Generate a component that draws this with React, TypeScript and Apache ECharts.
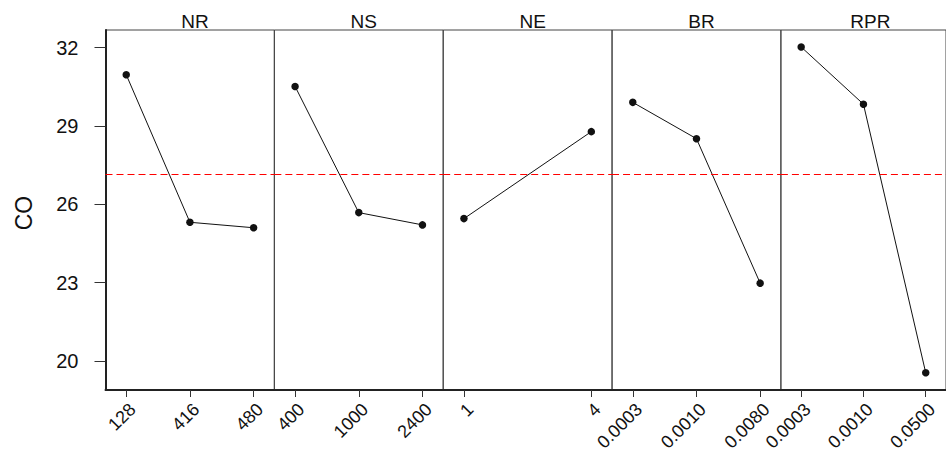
import React, { useEffect, useRef } from "react";
import * as echarts from "echarts";

const factorNames = ["NR", "NS", "NE", "BR", "RPR"];

const nrLevels = ["128", "416", "480"];
const nrMeans = [30.96, 25.31, 25.1];

const nsLevels = ["400", "1000", "2400"];
const nsMeans = [30.51, 25.68, 25.21];

const neLevels = ["1", "4"];
const neMeans = [25.45, 28.78];

const brLevels = ["0.0003", "0.0010", "0.0080"];
const brMeans = [29.9, 28.51, 22.98];

const rprLevels = ["0.0003", "0.0010", "0.0500"];
const rprMeans = [32.02, 29.83, 19.55];

const yTicks = [20, 23, 26, 29, 32];
const grandMean = 27.13;
const yAxisTitle = "CO";

const factorLevels = [nrLevels, nsLevels, neLevels, brLevels, rprLevels];
const factorMeans = [nrMeans, nsMeans, neMeans, brMeans, rprMeans];

const FONT = "'Liberation Sans', Arial, Helvetica, sans-serif";

export default function App() {
  const ref = useRef<HTMLDivElement>(null);

  useEffect(() => {
    if (!ref.current) return;
    const chart = echarts.init(ref.current, null, { renderer: "svg" });

    const plotLeft = 105.5;
    const panelW = 168.85;
    const plotTop = 30;
    const plotH = 360;
    const xMin = 0.6745;
    const xMax = 3.3255;
    const yMin = 18.89;
    const yMax = 32.67;

    const grids: any[] = [];
    const xAxes: any[] = [];
    const yAxes: any[] = [];
    const series: any[] = [];
    const titles: any[] = [];

    factorNames.forEach((name, i) => {
      const levels = factorLevels[i];
      const means = factorMeans[i];
      const n = levels.length;
      const pos = levels.map((_, k) => 1 + (k * 2) / (n - 1));
      const labelMap: Record<string, string> = {};
      pos.forEach((p, k) => (labelMap[String(p)] = levels[k]));

      grids.push({
        left: plotLeft + i * panelW,
        top: plotTop,
        width: panelW,
        height: plotH,
        show: true,
        borderColor: "#444",
        borderWidth: 1,
        backgroundColor: "transparent",
      });

      xAxes.push({
        type: "value",
        gridIndex: i,
        min: xMin,
        max: xMax,
        axisLine: { show: true, onZero: false, lineStyle: { color: "#222", width: 2 } },
        axisTick: {
          show: true,
          length: 7,
          customValues: pos,
          lineStyle: { color: "#333", width: 1 },
        },
        axisLabel: {
          show: true,
          customValues: pos,
          rotate: 45,
          align: "right",
          verticalAlign: "top",
          margin: 10,
          fontSize: 18,
          fontFamily: FONT,
          color: "#111",
          formatter: (v: number) => labelMap[String(v)] ?? "",
        },
        splitLine: { show: false },
      });

      yAxes.push({
        type: "value",
        gridIndex: i,
        min: yMin,
        max: yMax,
        show: i === 0,
        axisLine: { show: i === 0, onZero: false, lineStyle: { color: "#222", width: 2 } },
        axisTick: {
          show: i === 0,
          length: 11,
          customValues: yTicks,
          lineStyle: { color: "#333", width: 1 },
        },
        axisLabel: {
          show: i === 0,
          customValues: yTicks,
          margin: 27,
          fontSize: 20,
          fontFamily: FONT,
          color: "#111",
        },
        splitLine: { show: false },
      });

      series.push({
        type: "line",
        xAxisIndex: i,
        yAxisIndex: i,
        data: pos.map((p, k) => [p, means[k]]),
        symbol: "circle",
        symbolSize: 7.5,
        itemStyle: { color: "#111" },
        lineStyle: { color: "#111", width: 1 },
        silent: true,
        markLine: {
          silent: true,
          symbol: ["none", "none"],
          label: { show: false },
          lineStyle: { color: "#ff0000", type: [7, 4], width: 1 },
          data: [{ yAxis: grandMean }],
        },
      });

      titles.push({
        text: name,
        left: plotLeft + i * panelW + panelW / 2,
        top: 7,
        textAlign: "center",
        textStyle: {
          fontSize: 19,
          fontWeight: "normal",
          fontFamily: FONT,
          color: "#111",
        },
      });
    });

    chart.setOption({
      animation: false,
      backgroundColor: "#ffffff",
      title: titles,
      grid: grids,
      xAxis: xAxes,
      yAxis: yAxes,
      series,
      graphic: [
        {
          type: "text",
          x: 24,
          y: 213,
          rotation: Math.PI / 2,
          style: {
            text: yAxisTitle,
            align: "center",
            verticalAlign: "middle",
            fontSize: 23,
            fontFamily: FONT,
            fill: "#111",
          },
        },
      ],
    });

    return () => chart.dispose();
  }, []);

  return (
    <div
      ref={ref}
      style={{ position: "fixed", left: 0, top: 0, width: 946, height: 455, background: "#fff" }}
    />
  );
}
